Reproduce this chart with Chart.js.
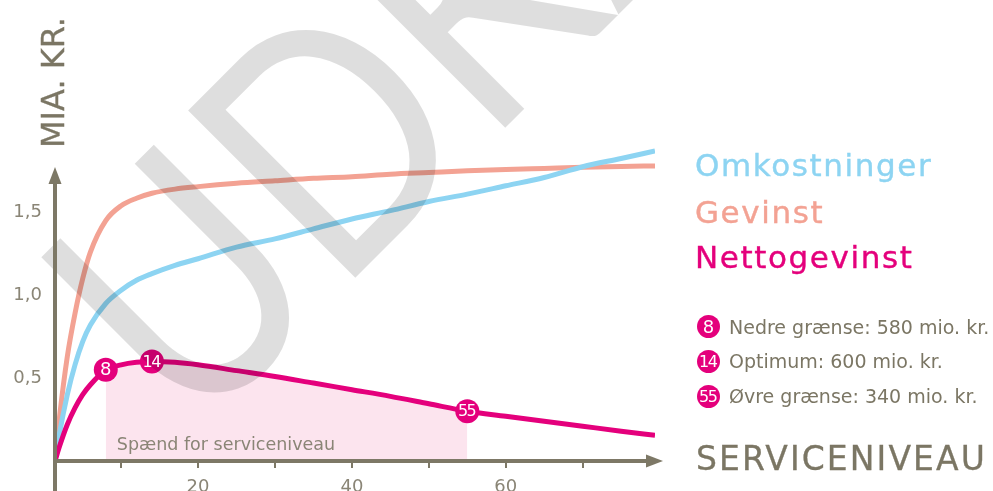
<!DOCTYPE html>
<html>
<head>
<meta charset="utf-8">
<script src="https://cdn.jsdelivr.net/npm/chart.js@4.4.0/dist/chart.umd.min.js"></script>
<style>
    html, body { margin: 0; padding: 0; background: #fff; }
    #wrap { position: relative; width: 993px; height: 491px; overflow: hidden; font-family: "DejaVu Sans", sans-serif; }
    #chart { position: absolute; left: 0; top: 0; }
    .lbl { position: absolute; white-space: nowrap; line-height: 1; }
    .series { font-size: 31px; letter-spacing: 1.6px; left: 695px; -webkit-text-stroke: 0.4px currentColor; }
    .note { font-size: 19px; left: 729px; color: #7b7664; }
    .dot { position: absolute; width: 23px; height: 23px; border-radius: 50%; background: #e4007c; color: #fff;
           font-size: 18px; line-height: 23px; text-align: center; left: 697px; }
    .dot.two { font-size: 16px; letter-spacing: -1.5px; text-indent: -1.5px; }
</style>
</head>
<body>
<div id="wrap">
    <canvas id="chart" width="993" height="491"></canvas>

    <div class="lbl" style="left:0;top:0;font-size:32px;color:#7b7664;transform-origin:0 0;transform:translate(37px,148px) rotate(-90deg);-webkit-text-stroke:0.3px #7b7664;">MIA. KR.</div>

    <div class="lbl series" style="top:150px;color:#8dd4f2;">Omkostninger</div>
    <div class="lbl series" style="top:197px;color:#f3a293;">Gevinst</div>
    <div class="lbl series" style="top:242px;color:#e4007c;">Nettogevinst</div>

    <div class="dot" style="top:315px;">8</div>
    <div class="lbl note" style="top:318px;">Nedre grænse: 580 mio. kr.</div>
    <div class="dot two" style="top:350px;">14</div>
    <div class="lbl note" style="top:352px;">Optimum: 600 mio. kr.</div>
    <div class="dot two" style="top:385px;">55</div>
    <div class="lbl note" style="top:387px;">Øvre grænse: 340 mio. kr.</div>

    <div class="lbl" style="left:696px;top:442px;font-size:33px;letter-spacing:2.1px;color:#7b7664;-webkit-text-stroke:0.3px #7b7664;">SERVICENIVEAU</div>
</div>

<script>
// serviceniveau (x) and the three curves, in mia. kr.
const xs =           [1.4, 2,    3,    4,    5,    6,    8,    10,   12,   14,   17,   20,    25,    30,   35,    40,    45,   50,    55,   60,    65,    70,    75,    79.4];
const omkostninger = [0,   0.17, 0.40, 0.58, 0.72, 0.82, 0.95, 1.03, 1.09, 1.13, 1.18, 1.22,  1.29,  1.34, 1.40,  1.46,  1.51, 1.565, 1.61, 1.66,  1.71,  1.775, 1.825, 1.87];
const gevinst =      [0,   0.27, 0.63, 0.89, 1.10, 1.26, 1.45, 1.54, 1.585, 1.615, 1.64, 1.655, 1.675, 1.69, 1.705, 1.715, 1.73, 1.74,  1.75, 1.758, 1.765, 1.772, 1.777, 1.78];
const netto =        [0,   0.09, 0.22, 0.32, 0.40, 0.46, 0.55, 0.58, 0.595, 0.60, 0.595, 0.58, 0.545, 0.51, 0.47, 0.43, 0.39, 0.345, 0.30, 0.27,  0.24,  0.21,  0.18,  0.155];

const markers = [8, 14, 55];          // nedre grænse, optimum, øvre grænse
const yTicks = [0.5, 1.0, 1.5];
const xLabelTicks = [20, 40, 60];
const xMarkTicks = [10, 20, 30, 40, 50, 60, 70];

const axisColor = '#7d7866';
const magenta = '#e4007c';

function points(ys) {
    return xs.map((x, i) => ({ x: x, y: ys[i] }));
}

const spanPoints = points(netto).filter(p => p.x >= markers[0] && p.x <= markers[2]);

// watermark + axes + marker numbers
const overlay = {
    id: 'overlay',
    afterDatasetsDraw(chart) {
        const ctx = chart.ctx;
        const xs_ = chart.scales.x, ys_ = chart.scales.y;
        const area = chart.chartArea;

        // span label
        ctx.save();
        ctx.font = '17.5px "DejaVu Sans"';
        ctx.fillStyle = '#8a8576';
        ctx.textBaseline = 'alphabetic';
        ctx.fillText('Spænd for serviceniveau', xs_.getPixelForValue(markers[0]) + 11, 450);
        ctx.restore();

        // watermark
        ctx.save();
        ctx.translate(316.5, 316.5);
        ctx.rotate(-Math.PI / 4);
        ctx.scale(0.845, 1);
        ctx.font = '330px Lato';
        ctx.fillStyle = 'rgba(0,0,0,0.13)';
        ctx.textBaseline = 'alphabetic';
        ctx.fillText('UDKAST', -208, 0);
        ctx.restore();

        // axes with arrows
        const x0 = area.left, y0 = ys_.getPixelForValue(0);
        ctx.save();
        ctx.strokeStyle = axisColor;
        ctx.fillStyle = axisColor;
        ctx.lineWidth = 4;
        ctx.beginPath();
        ctx.moveTo(x0, chart.height);
        ctx.lineTo(x0, 180);
        ctx.moveTo(x0 - 2, y0);
        ctx.lineTo(650, y0);
        ctx.stroke();
        ctx.beginPath();
        ctx.moveTo(x0, 167);
        ctx.lineTo(x0 - 6.5, 184);
        ctx.lineTo(x0 + 6.5, 184);
        ctx.closePath();
        ctx.fill();
        ctx.beginPath();
        ctx.moveTo(663, y0);
        ctx.lineTo(646, y0 - 6.5);
        ctx.lineTo(646, y0 + 6.5);
        ctx.closePath();
        ctx.fill();
        ctx.lineWidth = 2;
        ctx.beginPath();
        xMarkTicks.forEach(v => {
            const px = Math.round(xs_.getPixelForValue(v));
            ctx.moveTo(px, y0);
            ctx.lineTo(px, y0 + 7);
        });
        ctx.stroke();
        ctx.restore();

        // numbers in marker circles
        ctx.save();
        ctx.fillStyle = '#fff';
        ctx.textAlign = 'center';
        ctx.textBaseline = 'middle';
        markers.forEach(m => {
            const i = xs.indexOf(m);
            const two = String(m).length > 1;
            ctx.font = (two ? '16px' : '18px') + ' "DejaVu Sans"';
            ctx.letterSpacing = two ? '-1.5px' : '0px';
            ctx.fillText(String(m), xs_.getPixelForValue(m) - (two ? 0.75 : 0), ys_.getPixelForValue(netto[i]) + 1);
        });
        ctx.restore();
    }
};

new Chart(document.getElementById('chart'), {
    type: 'line',
    data: {
        datasets: [
            {
                label: 'Nettogevinst',
                data: points(netto),
                borderColor: magenta,
                borderWidth: 5,
                cubicInterpolationMode: 'monotone',
                pointRadius: ctx => markers.includes(ctx.raw.x) ? 12 : 0,
                pointBackgroundColor: magenta,
                pointBorderWidth: 0
            },
            {
                label: 'Omkostninger',
                data: points(omkostninger),
                borderColor: '#8dd4f2',
                borderWidth: 5,
                cubicInterpolationMode: 'monotone',
                pointRadius: 0
            },
            {
                label: 'Gevinst',
                data: points(gevinst),
                borderColor: '#f3a293',
                borderWidth: 5,
                cubicInterpolationMode: 'monotone',
                pointRadius: 0
            },
            {
                label: 'Spænd',
                data: spanPoints,
                borderWidth: 0,
                backgroundColor: '#fce4ee',
                fill: 'origin',
                cubicInterpolationMode: 'monotone',
                pointRadius: 0
            }
        ]
    },
    options: {
        responsive: false,
        animation: false,
        layout: { padding: { left: 0, top: 146, right: 338, bottom: 0 } },
        plugins: {
            legend: { display: false },
            tooltip: { enabled: false }
        },
        scales: {
            x: {
                type: 'linear',
                min: 1.4,
                max: 79.4,
                grid: { display: false, drawTicks: false },
                border: { display: false },
                ticks: {
                    color: '#8a8576',
                    padding: 16,
                    font: { family: 'DejaVu Sans', size: 18 }
                },
                afterBuildTicks: scale => { scale.ticks = xLabelTicks.map(v => ({ value: v })); },
                afterFit: scale => { scale.height = 30; }
            },
            y: {
                min: 0,
                max: 1.9,
                grid: { display: false, drawTicks: false },
                border: { display: false },
                ticks: {
                    color: '#8a8576',
                    padding: 13,
                    font: { family: 'DejaVu Sans', size: 18 },
                    callback: v => v.toFixed(1).replace('.', ',')
                },
                afterBuildTicks: scale => { scale.ticks = yTicks.map(v => ({ value: v })); },
                afterFit: scale => { scale.width = 55; }
            }
        }
    },
    plugins: [overlay]
});
</script>
</body>
</html>
